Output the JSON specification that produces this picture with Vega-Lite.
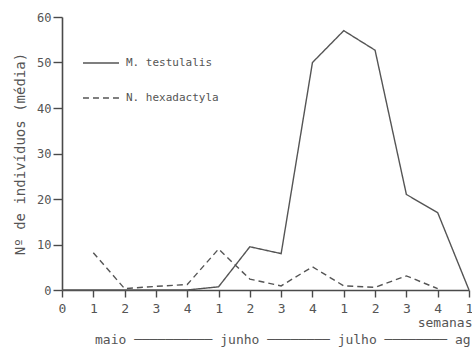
{
  "$schema": "https://vega.github.io/schema/vega-lite/v6.json",
  "autosize": "none",
  "width": 407,
  "height": 273,
  "padding": {"left": 62, "top": 17, "right": 3, "bottom": 58},
  "background": "white",
  "title": {
    "text": "maio ────────── junho ──────── julho ──────── ag",
    "orient": "bottom",
    "anchor": "start",
    "frame": "group",
    "dx": 33,
    "offset": 5,
    "font": "DejaVu Sans Mono",
    "fontSize": 13,
    "fontWeight": "normal",
    "color": "#555555"
  },
  "config": {
    "view": {"stroke": null},
    "font": "DejaVu Sans Mono",
    "axis": {
      "grid": false,
      "domainColor": "#4a4a4a",
      "domainWidth": 1.6,
      "tickColor": "#4a4a4a",
      "tickWidth": 1.4,
      "labelColor": "#555555",
      "labelFont": "DejaVu Sans Mono",
      "titleFont": "DejaVu Sans Mono",
      "titleColor": "#555555",
      "titleFontWeight": "normal"
    }
  },
  "data": {
    "values": [
      {"semana": 0, "especie": "M. testulalis", "n": 0},
      {"semana": 1, "especie": "M. testulalis", "n": 0},
      {"semana": 2, "especie": "M. testulalis", "n": 0},
      {"semana": 3, "especie": "M. testulalis", "n": 0},
      {"semana": 4, "especie": "M. testulalis", "n": 0},
      {"semana": 5, "especie": "M. testulalis", "n": 0.7},
      {"semana": 6, "especie": "M. testulalis", "n": 9.5},
      {"semana": 7, "especie": "M. testulalis", "n": 8},
      {"semana": 8, "especie": "M. testulalis", "n": 50},
      {"semana": 9, "especie": "M. testulalis", "n": 57},
      {"semana": 10, "especie": "M. testulalis", "n": 52.7},
      {"semana": 11, "especie": "M. testulalis", "n": 21},
      {"semana": 12, "especie": "M. testulalis", "n": 17},
      {"semana": 13, "especie": "M. testulalis", "n": 0},
      {"semana": 1, "especie": "N. hexadactyla", "n": 8.2},
      {"semana": 2, "especie": "N. hexadactyla", "n": 0.3},
      {"semana": 3, "especie": "N. hexadactyla", "n": 0.8},
      {"semana": 4, "especie": "N. hexadactyla", "n": 1.2},
      {"semana": 5, "especie": "N. hexadactyla", "n": 9},
      {"semana": 6, "especie": "N. hexadactyla", "n": 2.4},
      {"semana": 7, "especie": "N. hexadactyla", "n": 0.9},
      {"semana": 8, "especie": "N. hexadactyla", "n": 5.1},
      {"semana": 9, "especie": "N. hexadactyla", "n": 0.9},
      {"semana": 10, "especie": "N. hexadactyla", "n": 0.6},
      {"semana": 11, "especie": "N. hexadactyla", "n": 3.1},
      {"semana": 12, "especie": "N. hexadactyla", "n": 0.3}
    ]
  },
  "mark": {"type": "line", "color": "#555555", "strokeWidth": 1.4, "clip": false},
  "encoding": {
    "x": {
      "field": "semana",
      "type": "quantitative",
      "scale": {"domain": [0, 13], "nice": false, "zero": false},
      "axis": {
        "values": [0, 1, 2, 3, 4, 5, 6, 7, 8, 9, 10, 11, 12, 13],
        "labelExpr": "datum.value == 0 ? '0' : '' + (((datum.value - 1) % 4) + 1)",
        "labelFontSize": 13,
        "labelPadding": 5,
        "tickSize": 7,
        "labelFlush": false,
        "labelOverlap": false,
        "title": "semanas",
        "titleFontSize": 13,
        "titleAnchor": "end",
        "titleAlign": "right",
        "titleX": 410,
        "titlePadding": 1
      }
    },
    "y": {
      "field": "n",
      "type": "quantitative",
      "scale": {"domain": [0, 60], "nice": false},
      "axis": {
        "values": [0, 10, 20, 30, 40, 50, 60],
        "labelFontSize": 12,
        "labelPadding": 2,
        "tickSize": 9,
        "title": "Nº de indivíduos (média)",
        "titleFontSize": 14,
        "titlePadding": 9
      }
    },
    "strokeDash": {
      "field": "especie",
      "type": "nominal",
      "scale": {"domain": ["M. testulalis", "N. hexadactyla"], "range": [[1, 0], [6, 4]]},
      "legend": {
        "title": null,
        "orient": "none",
        "legendX": 20,
        "legendY": 27,
        "symbolType": "stroke",
        "symbolSize": 1300,
        "symbolStrokeWidth": 1.4,
        "symbolStrokeColor": "#555555",
        "rowPadding": 11,
        "labelOffset": 6,
        "labelFont": "DejaVu Sans Mono",
        "labelFontSize": 11,
        "labelColor": "#555555"
      }
    }
  }
}
